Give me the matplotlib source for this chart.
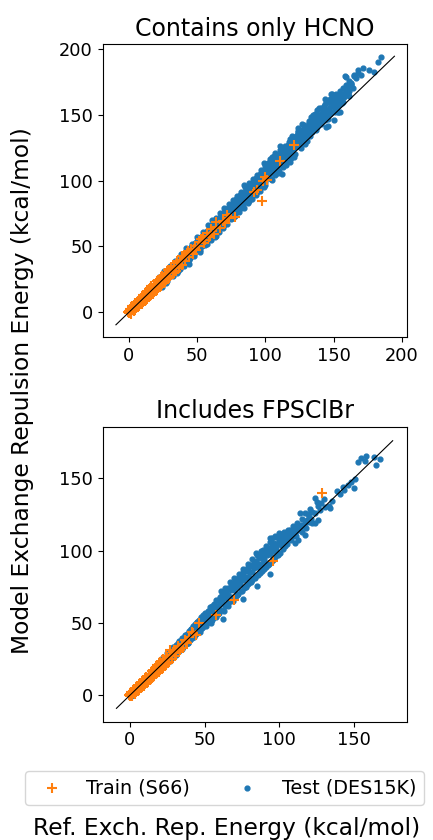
import numpy as np
import matplotlib
matplotlib.use("Agg")
import matplotlib.pyplot as plt

# ---------------- data ----------------
titles = ["Contains only HCNO", "Includes FPSClBr"]
series_labels = ["Train (S66)", "Test (DES15K)"]
xlabel = "Ref. Exch. Rep. Energy (kcal/mol)"
ylabel = "Model Exchange Repulsion Energy (kcal/mol)"
ticks_top = [0, 50, 100, 150, 200]
ticks_bottom = [0, 50, 100, 150]
diag_top = [-9.5, 194.5]
diag_bottom = [-9.0, 176.0]

hcno_test = [
    (0.3,0.8),(0.6,0.2),(0.9,1.5),(1.2,0.6),(1.5,2.1),(1.8,1.0),(2.2,2.9),(2.5,1.7),(2.9,3.4),(3.3,2.4),
    (3.7,4.6),(4.1,3.2),(4.6,5.3),(5.0,4.1),(5.6,6.8),(6.1,5.2),(6.7,7.9),(7.2,6.3),(7.8,9.1),(8.4,7.0),
    (9.1,10.4),(9.8,8.6),(10.5,11.9),(11.2,9.4),(12.0,13.5),(12.8,11.1),(13.5,14.8),(14.3,12.2),(15.1,16.9),
    (15.9,13.8),(16.8,18.2),(17.6,15.1),(18.5,20.3),(19.3,17.0),
    (20.2,22.5),(20.9,18.4),(21.7,23.9),(22.4,20.1),(23.2,25.6),(23.9,21.3),(24.6,26.2),(25.4,23.0),(26.1,28.7),
    (26.9,24.1),(27.5,22.2),(28.2,30.4),(28.9,26.5),(29.7,32.1),(30.3,27.9),(31.0,33.6),(31.8,29.2),(32.5,35.3),
    (33.2,31.0),(33.9,36.8),(34.6,31.7),(35.4,38.5),(36.1,33.9),(36.8,39.4),(37.4,32.8),(38.2,41.6),(38.9,36.2),
    (39.6,43.0),(40.3,37.5),(41.1,44.7),(41.8,38.4),(42.5,46.2),(43.2,40.9),(43.9,47.5),(44.7,41.2),(45.4,49.3),
    (46.1,43.8),(46.8,50.6),(47.5,44.1),(48.3,52.4),(49.0,46.5),(49.6,54.1),(50.4,47.2),(51.1,55.8),(51.9,49.6),
    (52.6,57.0),(53.3,50.1),(54.0,58.9),(54.8,52.3),(55.5,60.2),(56.2,53.0),(56.9,61.7),(57.7,55.4),(58.4,63.5),
    (59.1,56.2),(59.8,64.8),(44.0,36.5),(52.0,46.0),(57.0,51.5),(35.0,29.5),
    (22,26.5),(24,19.5),(26,31),(28,24),(30,35.5),(32,27.5),(34,39),(36,31.5),(38,44),(40,35),(42,48.5),
    (44,39.5),(46,52),(48,43),(50,57),(52,47.5),(54,61),(56,51),(58,66),(60,55),
    (25,27),(29,31.5),(33,35),(37,40),(41,43.5),(45,48),(49,52),(53,56.5),(57,60.5),(23,23.5),(27,27.5),
    (31,32),(35,35.5),(39,39.5),(43,44),(47,48.5),(51,52),(55,56),(59,60),
    (60.5,58.4),(61.2,66.1),(61.9,60.2),(62.6,67.9),(63.4,61.7),(64.1,69.5),(64.8,63.0),(65.5,71.2),(66.3,64.8),
    (67.0,72.6),(67.7,66.1),(68.4,74.3),(69.2,67.9),(69.9,76.0),(70.6,69.2),(71.3,77.8),(72.1,70.6),(72.8,79.1),
    (73.5,72.3),(74.2,80.9),(75.0,73.5),(75.7,82.4),(76.4,75.2),(77.1,84.0),(77.9,76.3),(78.6,85.7),(79.3,78.1),
    (80.0,87.2),(80.8,79.5),(81.5,88.9),(82.2,81.2),(82.9,90.6),(83.7,82.4),(84.4,96.8),(85.1,84.3),(85.8,93.5),
    (86.6,85.2),(87.3,95.2),(88.0,87.6),(88.7,96.9),(89.5,88.5),(90.2,98.4),(90.9,90.1),(91.6,100.2),(92.4,91.4),
    (93.1,101.8),(93.8,93.0),(94.5,103.5),(95.3,94.6),(96.0,105.1),(96.7,96.2),(97.4,106.9),(98.2,97.5),
    (98.9,113.5),(99.6,99.1),(66.0,68.5),(72.0,75.5),(78.0,81.0),(84.0,88.0),(90.0,94.5),(96.0,100.5),(87.0,90.0),
    (75.0,78.5),(63.0,65.5),(69.0,71.0),(81.0,84.5),(93.0,97.0),(99.0,103.5),
    (61,70),(62,63.5),(63,57.5),(64,72),(65,67),(66,61),(67,75.5),(68,70),(69,64),(70,79),(71,73),(72,67),
    (73,82),(74,76.5),(75,70.5),(76,85),(77,80),(78,73.5),(79,88),(80,83),(81,76.5),(82,91.5),(83,86),
    (84,79.5),(85,95),(86,89.5),(87,83),(88,98),(89,92.5),(90,86),(91,101.5),(92,96),(93,89),(94,104.5),
    (95,99),(96,92),(97,108),(98,102.5),(99,95.5),(100,111),
    (62,66),(65,70),(68,73),(71,75.5),(74,78),(77,81.5),(80,85),(83,88.5),(86,92),(89,95),(92,98.5),
    (95,102),(98,105.5),
    (64,58),(70,66),(76,72),(82,79),(88,84.5),(94,91),(99,106),(91,97),(85,90.5),(79,82.5),(73,77),(67,69.5),
    (100.4,108.6),(101.1,102.2),(101.8,110.3),(102.6,104.1),(103.3,112.0),(104.0,105.5),(104.7,118.0),
    (105.5,107.3),(106.2,115.4),(106.9,109.0),(107.6,117.1),(108.4,110.6),(109.1,118.8),(109.8,112.2),
    (110.5,120.5),(111.3,113.9),(112.0,105.0),(112.7,115.6),(113.4,123.9),(114.2,117.2),(114.9,125.6),
    (115.6,118.8),(116.3,127.3),(117.1,120.5),(117.8,113.9),(118.5,122.1),(119.2,134.1),(120.0,123.8),
    (120.7,131.2),(121.4,125.4),(122.1,132.6),(122.9,127.1),(123.6,136.7),(124.3,128.6),(125.0,135.9),
    (125.8,130.3),(126.5,138.2),(127.2,131.9),(127.9,140.0),(128.7,133.6),(129.4,139.2),(130.1,135.2),
    (130.7,130.3),(131.6,143.5),(132.3,137.0),(133.1,148.0),(133.8,138.4),(134.5,145.3),(135.2,140.1),
    (136.0,147.0),(136.7,141.8),(137.9,153.5),(138.6,143.4),(139.3,149.9),(104.0,110.0),(110.0,116.5),
    (116.0,123.0),(122.0,129.5),(128.0,136.5),(134.0,142.5),
    (101,105),(102,113.5),(103,108),(104,101),(105,116),(106,110.5),(107,104),(108,119.5),(109,114),
    (110,107.5),(111,123),(112,117),(113,110.5),(114,126),(115,121),(116,114),(117,129.5),(118,124),
    (119,117),(120,133),(121,127.5),(122,120.5),(123,130),(124,138),(125,133),(126,125),(127,137),
    (128,142),(129,131),(130,140.5),(131,136),(132,145),(133,141),(134,137),(135,150),(136,144),(137,147),
    (138,141),(139,155),(140,150),
    (102,107),(106,113),(110,118),(114,121.5),(118,126),(122,130.5),(126,134),(130,138),(134,146),(138,146.5),
    (100,96.5),(103,116.5),(105,100.5),(107,121),(109,106),(111,126),(113,119.5),(115,112),(117,124.5),
    (119,129),(121,118),(123,134.5),(125,125.5),(127,143),(129,128),(131,140),(133,134),(135,146),
    (137,138.5),(139,146),(141,143),(143,153),(145,150),(147,162),(149,160),(151,152),(153,157),
    (155,152.5),(157,160),(159,173),(161,164),(144,162),(136,151),(124,140),(118,131.5),(112,124),(106,118.5),
    (140.4,146.0),(141.2,151.3),(142.0,147.2),(143.0,156.8),(143.9,148.5),(144.6,140.9),(145.5,141.7),
    (146.3,154.2),(147.2,150.6),(148.0,165.7),(149.0,166.0),(149.8,157.1),(150.8,155.2),(151.7,160.4),
    (152.9,151.8),(153.6,162.4),(154.4,158.3),(155.3,163.2),(156.2,159.0),(157.6,163.6),(158.6,179.3),
    (159.0,179.1),(160.0,166.0),(160.3,172.0),(160.7,166.2),(161.5,168.4),(162.6,172.5),(162.7,173.3),
    (165.0,180.0),(165.2,179.5),(167.5,181.8),(168.1,183.9),(171.4,185.4),(179.5,182.9),(182.5,190.5),
    (184.9,194.0),(153.0,152.0),(146.0,146.5),(158.0,166.5),(151.0,163.0),
    (141,155),(142,152),(143,149),(144,158),(145,153.5),(146,160),(147,156),(148,161),(149,152),(150,162),
    (151,158),(152,166),(153,164),(154,161),(155,168),(156,165),(157,170),(159,168),(161,176),(163,174),
    (164,170),(166,178),(170,180),(176,184),(150,146),(144,146),(155,158),
]

hcno_train = [
    (-0.5,0.5),(0.0,1.2),(0.3,-0.6),(0.7,0.9),(1.0,2.0),(1.3,0.4),(1.7,1.8),(2.0,3.1),(2.4,1.5),(2.8,3.6),
    (3.1,2.2),(3.5,4.7),(3.9,3.0),(4.3,5.5),(4.7,3.8),(5.1,6.2),(5.6,4.9),(6.0,7.3),(6.5,5.6),(7.0,8.1),
    (7.5,6.4),(8.0,9.4),(8.6,7.5),(9.1,10.3),(9.7,8.4),(10.3,11.6),(10.9,9.5),(11.5,12.8),(12.1,10.6),
    (12.8,14.0),(13.4,11.7),(14.1,15.5),(14.8,13.0),(15.5,16.9),(16.2,14.3),(17.0,18.4),(17.7,15.6),
    (18.5,19.9),(19.3,17.2),(20.1,21.6),(20.9,18.7),(21.8,23.4),(22.6,20.1),(23.5,25.0),(24.4,21.9),
    (25.3,26.8),(26.2,23.6),(27.2,28.9),(28.1,25.4),(29.1,30.8),(30.1,27.3),(31.1,32.9),(32.1,29.6),
    (33.2,35.0),(34.3,31.4),(35.4,37.6),(36.5,33.7),(37.7,39.8),(38.9,36.2),(40.1,42.5),
    (0.5,2.5),(1.5,-1.0),(2.5,4.5),(3.5,0.8),(4.5,6.8),(5.5,2.9),(6.5,8.9),(7.5,4.6),(8.5,11.0),(9.5,6.4),
    (10.5,13.3),(11.5,8.5),(12.5,15.2),(13.5,10.4),(14.5,17.4),(15.5,12.3),(16.5,19.6),(17.5,14.2),
    (18.5,21.7),(19.5,16.1),(20.5,23.8),(21.5,18.2),(22.5,25.6),(23.5,20.3),(24.5,27.9),(25.5,22.4),
    (26.5,30.1),(27.5,24.6),(28.5,32.3),(29.5,26.4),(31.0,34.6),(33.0,30.2),(35.0,38.8),(37.0,34.1),
    (39.0,43.0),(41.5,42.0),(43.5,46.5),(47.5,48.0),(50.5,50.0),(54.0,57.5),(56.0,55.0),
    (41.4,39.0),(42.7,45.1),(44.0,42.3),(45.3,47.9),(46.7,44.0),(48.1,50.7),(49.5,47.1),(51.0,53.2),
    (51.7,50.5),(53.0,55.8),(55.0,52.4),(57.0,60.1),(58.5,57.0),(59.2,57.6),(60.5,63.2),(62.0,59.4),
    (63.6,68.9),(64.0,65.0),(66.5,64.2),(69.0,69.0),(70.3,67.7),(71.5,74.0),(73.0,71.5),(77.7,72.7),
    (91.6,91.7),(93.7,93.0),(97.4,84.8),(98.0,100.0),(99.9,103.0),(101.0,100.5),(110.8,114.9),(121.0,127.0),
]

fpscl_test = [
    (0.2,0.6),(0.5,-0.3),(0.9,1.4),(1.3,0.5),(1.7,2.3),(2.1,1.2),(2.6,3.2),(3.0,2.0),(3.5,4.3),(4.0,3.1),
    (4.6,5.4),(5.1,4.0),(5.7,6.6),(6.3,5.1),(6.9,7.9),(7.5,6.2),(8.2,9.3),(8.9,7.4),(9.6,10.8),(10.3,8.9),
    (11.1,12.5),(11.9,10.2),(12.7,14.1),(13.5,11.6),(14.4,16.0),(15.2,13.1),(16.1,17.9),(17.0,14.8),
    (17.9,19.8),(18.9,16.6),(19.8,21.9),
    (20.5,18.2),(21.2,23.6),(21.9,19.5),(22.6,25.1),(23.3,21.0),(24.0,26.8),(24.7,22.3),(25.4,28.2),
    (26.1,23.9),(26.8,29.7),(27.5,25.0),(28.2,31.5),(28.9,26.6),(29.6,33.0),(30.3,28.1),(31.0,34.6),
    (31.7,29.4),(32.4,36.3),(33.1,30.8),(33.8,37.8),(34.5,32.5),(35.2,39.4),(35.9,33.7),(36.6,41.2),
    (37.3,35.3),(38.0,42.7),(38.7,36.4),(39.4,44.5),(40.1,37.9),(40.8,45.9),(41.5,39.6),(42.2,47.6),
    (42.9,40.7),(43.6,49.1),(44.3,42.4),(45.0,50.8),(45.7,43.5),(46.4,52.2),(47.1,45.1),(47.8,53.9),
    (48.5,46.3),(49.2,55.4),(49.9,47.8),(50.6,57.1),(51.3,49.0),(52.0,58.5),(52.7,50.6),(53.4,61.3),
    (54.1,51.7),(54.8,61.9),(55.5,53.3),(56.2,63.2),(56.9,54.5),(57.6,66.0),(58.3,56.1),(59.0,65.9),
    (59.7,57.2),(30.0,31.5),(36.0,38.0),(42.0,44.0),(48.0,50.5),(54.0,56.5),(27.0,28.5),(39.0,40.5),
    (45.0,47.0),(51.0,53.5),(57.0,59.5),(33.0,34.0),(24.0,24.5),
    (21,25),(23,20),(25,29),(27,24),(29,33.5),(31,28),(33,37.5),(35,32),(37,42),(39,36),(41,46),(43,40),
    (45,50.5),(47,44),(49,54),(51,48),(53,58),(55,52),(57,62),(59,56),
    (22,23),(26,27.5),(30,32.5),(34,36),(38,40),(42,45),(46,49),(50,53),(54,57.5),(58,61.5),(28,29),
    (32,33.5),(36,37),(40,41.5),(44,46),(48,49.5),(52,54.5),(56,58),(60,62.5),
    (58,54),(54,50),(50,51),(46,46.5),
    (60.4,68.1),(61.1,58.9),(61.8,69.4),(62.5,52.5),(63.2,70.8),(63.9,61.7),(64.6,72.5),(65.3,63.0),
    (66.0,73.9),(66.7,64.4),(67.4,75.6),(68.1,65.8),(68.8,76.9),(69.2,77.4),(69.5,67.5),(70.2,78.6),
    (70.9,68.8),(71.4,75.1),(71.6,80.2),(72.3,70.3),(73.0,81.5),(73.6,82.0),(74.4,72.0),(75.1,83.2),
    (75.9,85.5),(75.9,66.3),(76.5,74.1),(77.2,86.0),(77.9,75.5),(78.6,87.4),(79.2,88.9),(79.3,77.2),
    (80.0,88.7),(80.7,78.4),(81.4,90.3),(82.1,80.0),(82.8,91.7),(83.5,81.3),(84.2,93.1),(84.8,98.2),
    (84.9,75.5),(85.6,83.0),(86.3,94.8),(87.0,84.4),(87.7,96.2),(88.4,86.0),(89.1,97.6),(89.2,100.5),
    (89.8,87.3),(90.5,99.1),(91.2,88.8),(91.9,100.6),(92.6,90.4),(93.3,102.0),(93.7,108.6),(93.7,84.0),
    (94.7,92.1),(95.4,103.7),(95.5,108.6),(96.1,93.6),(96.8,105.0),(97.5,95.3),(98.2,109.7),(98.9,97.1),
    (99.3,109.7),(99.6,107.4),(65.0,68.0),(72.0,75.5),(78.0,82.0),(84.0,88.5),(90.0,94.0),(96.0,99.5),
    (61,72),(62,65),(63,58),(64,74.5),(65,70),(66,62),(67,78),(68,72.5),(69,65),(70,81),(71,76),(72,69),
    (73,84),(74,79),(75,72),(76,87),(77,82),(78,75),(79,91),(80,85),(81,78),(82,94),(83,88),(84,81.5),
    (85,97),(86,91),(87,85),(88,100),(89,94),(90,88),(91,103),(92,97),(93,91),(94,106),(95,100),(96,95),
    (97,110),(98,103),(99,98),(100,112),
    (62,64),(66,69),(70,73),(74,77),(78,81),(82,85.5),(86,89),(90,93),(94,97.5),(98,101),
    (64,67),(68,68),(72,78),(76,80),(80,82),(84,90),(88,91),(92,100),(96,103),
    (100.3,98.6),(101.0,106.5),(101.7,111.2),(102.4,100.9),(103.1,108.8),(104.0,110.0),(105.0,104.3),
    (106.0,111.5),(107.0,114.3),(107.7,107.2),(108.4,113.0),(109.2,109.8),(110.4,112.0),(110.4,105.1),
    (111.5,115.6),(112.7,107.4),(113.8,126.3),(114.5,118.0),(115.6,113.2),(117.1,126.3),(117.1,110.9),
    (118.4,121.0),(120.0,123.1),(120.5,128.8),(121.8,118.9),(123.8,136.2),(123.8,118.9),(125.4,133.9),
    (126.0,121.2),(127.5,128.0),
    (101,104),(102,108),(103,113),(104,103),(105,109),(106,114),(108,111),(109,117),(111,110),(112,119),
    (113,114),(115,122),(116,117),(118,116),(119,125),(121,122),(122,127),(124,126),(126,131),(128,133),
    (130,136),(131,130),
    (100,106),(104,107),(107,109),(110,115),(114,116),(117,119),(120,120),
    (133.5,131.0),(134.3,129.7),(135.7,134.6),(138.8,141.5),(140.5,139.0),(142.8,144.3),(146.0,145.4),
    (148.4,147.7),(150.0,143.2),(150.6,149.4),(152.8,161.5),(155.0,163.9),(157.3,162.2),(158.0,165.5),
    (163.3,164.5),(165.0,159.3),(167.3,163.2),(143.5,142.0),
]

fpscl_train = [
    (-0.5,0.3),(0.0,1.0),(0.3,-0.5),(0.7,0.7),(1.0,1.8),(1.4,0.3),(1.8,1.6),(2.1,2.9),(2.5,1.3),(2.9,3.4),
    (3.3,2.0),(3.7,4.5),(4.1,2.8),(4.6,5.3),(5.0,3.7),(5.5,6.1),(6.0,4.6),(6.5,7.2),(7.0,5.4),(7.6,8.3),
    (8.1,6.4),(8.7,9.5),(9.3,7.5),(9.9,10.9),(10.5,8.6),(11.2,12.2),(11.8,9.7),(12.5,13.5),(13.2,10.9),
    (13.9,14.9),(14.6,12.2),(15.4,16.5),(16.1,13.5),(16.9,18.1),(17.7,15.0),(17.9,19.8),(18.6,16.4),
    (19.5,20.7),(20.4,17.9),(21.3,22.6),(22.2,19.6),(23.1,24.4),(24.1,21.3),(25.1,26.3),(26.0,23.0),
    (27.2,31.3),(27.0,28.0),(28.0,25.2),(29.1,30.2),(30.2,27.4),(31.0,29.0),(32.3,34.1),(33.4,31.0),
    (34.5,33.0),(35.5,32.5),(36.8,38.2),(38.0,36.0),(41.3,44.0),(42.4,42.9),(44.2,41.7),(46.4,50.2),
    (0.5,2.2),(1.5,-0.8),(2.5,4.1),(3.5,0.9),(4.5,6.3),(5.5,3.0),(6.5,8.4),(7.5,4.8),(8.5,10.6),(9.5,6.7),
    (10.5,12.7),(11.5,8.8),(12.5,14.8),(13.5,10.6),(14.5,16.9),(15.5,12.5),(16.5,19.0),(17.5,14.4),
    (18.5,21.0),(19.5,16.3),(20.5,23.2),(21.5,18.4),(22.5,25.3),(23.5,20.5),(24.5,27.2),(25.5,22.6),
    (28.5,28.0),(30.0,31.5),(33.0,33.0),(37.5,37.0),(39.5,40.5),
    (58.0,55.5),(69.6,65.9),(95.9,93.1),(129.0,139.7),
]

# ---------------- figure ----------------
W, H = 433, 840
fig = plt.figure(figsize=(W / 100, H / 100), dpi=100)

panels = [
    (hcno_test, hcno_train, titles[0], ticks_top, diag_top, (-19.2, 203.5), (-19.0, 203.8),
     [102.7 / W, 1 - 337.3 / H, 304 / W, 293.3 / H]),
    (fpscl_test, fpscl_train, titles[1], ticks_bottom, diag_bottom, (-18.2, 185.4), (-18.25, 185.7),
     [102.7 / W, 1 - 721.7 / H, 304 / W, 295.0 / H]),
]

handles = None
for test, train, title, ticks, diag, xl, yl, rect in panels:
    ax = fig.add_axes(rect)
    tx, ty = zip(*test)
    rx, ry = zip(*train)
    h_test = ax.scatter(tx, ty, s=12, color="#1f77b4", marker="o", zorder=2,
                        label=series_labels[1])
    h_train = ax.scatter(rx, ry, s=42, color="#ff7f0e", marker="+", linewidths=1.5,
                         zorder=3, label=series_labels[0])
    ax.plot(diag, diag, color="black", lw=0.8, zorder=4)
    ax.set_xlim(*xl)
    ax.set_ylim(*yl)
    ax.set_xticks(ticks)
    ax.set_yticks(ticks)
    ax.tick_params(labelsize=12.8)
    ax.set_title(title, fontsize=17)
    handles = [h_train, h_test]

fig.text(23 / W, 1 - 391 / H, ylabel, rotation=90, ha="center", va="center", fontsize=16.8)
fig.text(226.5 / W, 1 - 828 / H, xlabel, ha="center", va="center", fontsize=16.8)
fig.legend(handles, series_labels, loc="center", ncol=2, fontsize=13.8,
           bbox_to_anchor=(224.4 / W, 1 - 788 / H))

fig.savefig("out.png", dpi=100)
